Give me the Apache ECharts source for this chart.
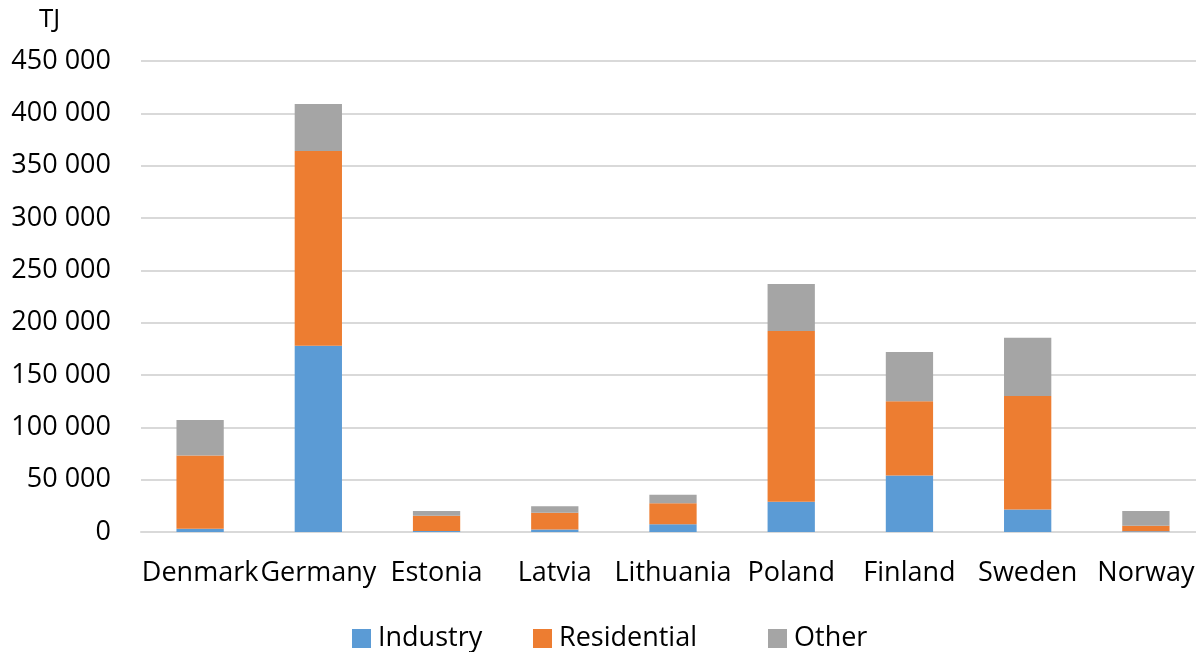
<!DOCTYPE html>
<html>
<head>
<meta charset="utf-8">
<script src="https://cdn.jsdelivr.net/npm/echarts@6/dist/echarts.min.js"></script>
<style>
  html, body { margin: 0; padding: 0; background: #fff; overflow: hidden; }
  /* The plot runs a little past the right edge of the picture, so the
     canvas is a bit wider than the window and its right part is cut off. */
  #chart { width: 1205px; height: 652px; }
</style>
</head>
<body>
<div id="chart"></div>
<script>
// Chart data (TJ).
var countries = ['Denmark', 'Germany', 'Estonia', 'Latvia', 'Lithuania', 'Poland', 'Finland', 'Sweden', 'Norway'];
var industry = [3000, 178000, 1000, 2500, 7500, 29000, 54000, 21500, 800];
var residential = [70000, 186000, 14500, 16000, 20000, 163000, 71000, 108500, 5200];
var other = [34000, 45000, 4500, 6000, 8000, 45000, 47000, 55500, 14000];
var seriesNames = ['Industry', 'Residential', 'Other'];

var font = 'Open Sans';

// Format numbers with a space as thousands separator, e.g. 450 000.
function spaced(v) {
    return String(v).replace(/\B(?=(\d{3})+(?!\d))/g, ' ');
}

var myChart = echarts.init(document.getElementById('chart'));

function barSeries(name, data, color) {
    return {
        name: name,
        type: 'bar',
        stack: 'total',
        barWidth: '40%',
        animation: false,
        itemStyle: { color: color },
        data: data
    };
}

// One legend per item so each entry sits where the reference puts it.
function legendAt(name, left) {
    return {
        left: left,
        top: 620,
        icon: 'rect',
        itemWidth: 19,
        itemHeight: 19,
        textStyle: { fontFamily: font, fontSize: 27, color: '#000', padding: [0, 0, 0, 2] },
        data: [name]
    };
}

var option = {
    backgroundColor: '#fff',
    title: {
        text: 'TJ',
        left: 34,
        top: 2,
        textStyle: { fontFamily: font, fontSize: 26, fontWeight: 'normal', color: '#000' }
    },
    grid: { left: 141, right: 0, top: 61, bottom: 120 },
    legend: [
        legendAt(seriesNames[0], 347),
        legendAt(seriesNames[1], 528),
        legendAt(seriesNames[2], 763)
    ],
    xAxis: {
        type: 'category',
        data: countries,
        axisTick: { show: false },
        axisLine: { lineStyle: { color: '#d9d9d9', width: 2 } },
        axisLabel: {
            interval: 0,
            margin: 28,
            fontFamily: font,
            fontSize: 27,
            color: '#000'
        }
    },
    yAxis: {
        type: 'value',
        min: 0,
        max: 450000,
        interval: 50000,
        axisLine: { show: false },
        axisTick: { show: false },
        splitLine: { lineStyle: { color: '#d9d9d9', width: 2 } },
        axisLabel: {
            margin: 30,
            fontFamily: font,
            fontSize: 27,
            color: '#000',
            formatter: spaced
        }
    },
    series: [
        barSeries(seriesNames[0], industry, '#5b9bd5'),
        barSeries(seriesNames[1], residential, '#ed7d31'),
        barSeries(seriesNames[2], other, '#a5a5a5')
    ]
};
myChart.setOption(option);
</script>
</body>
</html>
